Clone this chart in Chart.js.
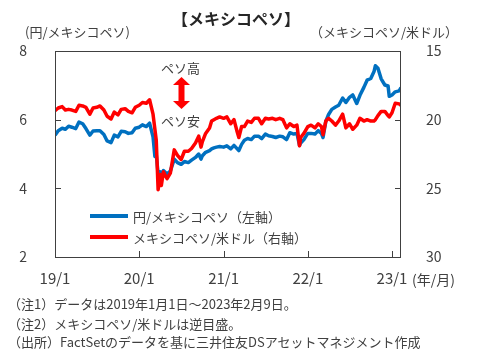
<!DOCTYPE html>
<html lang="ja">
<head>
<meta charset="utf-8">
<script src="https://cdn.jsdelivr.net/npm/chart.js@4.4.0/dist/chart.umd.min.js"></script>
<style>
  html, body { margin: 0; padding: 0; background: #fff; }
  #wrap { position: relative; width: 479px; height: 358px; overflow: hidden;
          font-family: "Noto Sans CJK JP", "Noto Sans", sans-serif; color: #404040; }
  #c { position: absolute; left: 0; top: 0; }
  .t { position: absolute; white-space: nowrap; }
  .leg-line { position: absolute; height: 4px; }
</style>
</head>
<body>
<div id="wrap">
  <canvas id="c" width="479" height="358"></canvas>
  <div class="t" style="left:236px; top:10px; font-size:16px; line-height:17px; font-weight:bold; color:#262626; transform:translateX(-50%);">【メキシコペソ】</div>
  <div class="t" style="left:25px; top:25px; font-size:13px; line-height:14px;">(円/メキシコペソ)</div>
  <div class="t" style="left:310px; top:25px; font-size:13px; line-height:14px;">（メキシコペソ/米ドル）</div>
  <div class="t" style="left:412px; top:271px; font-size:14px; line-height:16px;">(年/月)</div>
  <div class="t" style="left:161px; top:61px; font-size:13px; line-height:14px;">ペソ高</div>
  <div class="t" style="left:161px; top:114px; font-size:13px; line-height:14px;">ペソ安</div>
  <svg class="t" style="left:173px; top:77px;" width="18" height="33" viewBox="0 0 18 33">
    <polygon points="8.5,0 17,8 11.5,8 11.5,24 17,24 8.5,32 0,24 5.5,24 5.5,8 0,8" fill="#FF0000"/>
  </svg>
  <div class="leg-line" style="left:90px; top:214px; width:38px; background:#0070C0;"></div>
  <div class="t" style="left:133px; top:210px; font-size:13px; line-height:14px;">円/メキシコペソ（左軸）</div>
  <div class="leg-line" style="left:90px; top:235px; width:38px; background:#FF0000;"></div>
  <div class="t" style="left:133px; top:231px; font-size:13px; line-height:14px;">メキシコペソ/米ドル（右軸）</div>
  <div class="t" style="left:8px; top:297px; font-size:13px; line-height:14px;">（注1）データは2019年1月1日～2023年2月9日。</div>
  <div class="t" style="left:8px; top:317px; font-size:13px; line-height:14px;">（注2）メキシコペソ/米ドルは逆目盛。</div>
  <div class="t" style="left:8px; top:335px; font-size:13px; line-height:14px;">（出所）FactSetのデータを基に三井住友DSアセットマネジメント作成</div>
</div>
<script>
// ---- data ----
const dates = [
  '2019-01-01','2019-01-15','2019-02-01','2019-02-15','2019-03-01','2019-03-15','2019-04-01','2019-04-15',
  '2019-05-01','2019-05-15','2019-06-01','2019-06-15','2019-07-01','2019-07-15','2019-08-01','2019-08-15',
  '2019-09-01','2019-09-15','2019-10-01','2019-10-15','2019-11-01','2019-11-15','2019-12-01','2019-12-15',
  '2020-01-01','2020-01-15','2020-02-01','2020-02-15','2020-03-01','2020-03-09','2020-03-15','2020-03-23',
  '2020-04-01','2020-04-06','2020-04-15','2020-05-01','2020-05-15','2020-06-01','2020-06-15','2020-07-01',
  '2020-07-15','2020-08-01','2020-08-15','2020-09-01','2020-09-15','2020-09-25','2020-10-01','2020-10-15',
  '2020-11-01','2020-11-10','2020-11-20','2020-12-01','2020-12-15',
  '2021-01-01','2021-01-15','2021-02-01','2021-02-15','2021-03-01','2021-03-08','2021-03-20','2021-04-01',
  '2021-04-15','2021-05-01','2021-05-15','2021-06-01','2021-06-15','2021-07-01','2021-07-15','2021-08-01',
  '2021-08-15','2021-09-01','2021-09-15','2021-10-01','2021-10-15','2021-11-01','2021-11-15','2021-11-26',
  '2021-12-01','2021-12-15',
  '2022-01-01','2022-01-15','2022-02-01','2022-02-15','2022-03-01','2022-03-08','2022-03-20','2022-04-01',
  '2022-04-15','2022-05-01','2022-05-15','2022-06-01','2022-06-15','2022-07-01','2022-07-15','2022-08-01',
  '2022-08-15','2022-09-01','2022-09-15','2022-10-01','2022-10-15','2022-10-21','2022-11-01','2022-11-15',
  '2022-12-01','2022-12-15','2022-12-20',
  '2023-01-01','2023-01-15','2023-02-01','2023-02-09'
];
// 円/メキシコペソ (left axis)
const jpyPerMxn = [
  5.55,5.68,5.75,5.72,5.81,5.78,5.74,5.93,
  5.88,5.74,5.55,5.67,5.68,5.68,5.57,5.38,
  5.33,5.55,5.50,5.66,5.65,5.60,5.62,5.75,
  5.78,5.85,5.80,5.90,5.50,4.93,4.98,4.42,
  4.48,4.40,4.52,4.42,4.50,4.85,4.75,4.70,
  4.78,4.75,4.82,4.90,5.00,4.85,4.95,5.05,
  5.10,5.15,5.18,5.20,5.22,
  5.20,5.24,5.15,5.25,5.15,5.10,5.28,5.40,
  5.45,5.42,5.52,5.52,5.45,5.58,5.53,5.51,
  5.48,5.52,5.50,5.42,5.62,5.58,5.60,5.25,
  5.32,5.42,
  5.60,5.60,5.58,5.68,5.60,5.48,5.95,6.15,
  6.30,6.37,6.42,6.63,6.50,6.65,6.72,6.47,
  6.71,6.94,7.15,7.20,7.40,7.57,7.50,7.19,
  7.01,6.98,6.68,
  6.72,6.81,6.84,6.93
];
// メキシコペソ/米ドル (right axis, reversed)
const mxnPerUsd = [
  19.35,19.15,19.05,19.30,19.25,19.30,19.40,18.95,
  19.00,19.10,19.60,19.15,19.10,19.00,19.30,19.75,
  19.95,19.45,19.65,19.25,19.20,19.40,19.50,19.10,
  18.95,18.75,18.80,18.55,19.60,20.70,21.50,25.10,
  24.00,24.80,23.80,24.30,23.90,22.20,22.60,22.90,
  22.30,22.30,22.10,21.70,21.20,22.00,21.60,21.00,
  20.60,20.10,20.00,19.90,19.80,
  19.90,19.80,20.30,20.00,20.90,21.30,20.50,20.50,
  20.10,20.20,19.90,19.90,20.30,19.90,19.95,19.90,
  20.00,19.90,20.00,20.60,20.30,20.50,20.40,21.90,
  21.30,21.00,
  20.50,20.40,20.60,20.30,20.50,21.10,20.10,19.90,
  20.10,20.40,20.10,19.60,20.60,20.30,20.70,20.40,
  19.90,20.10,20.00,20.10,20.10,20.00,19.70,19.40,
  19.40,19.70,19.80,
  19.50,18.80,18.85,18.95
];
const xTickDates  = ['2019-01-01','2020-01-01','2021-01-01','2022-01-01','2023-01-01'];
const xTickLabels = ['19/1','20/1','21/1','22/1','23/1'];
const xStart = '2019-01-01';
const xEnd = '2023-02-09';

// ---- helpers ----
const DAY = 86400000;
const dayOf = s => (Date.parse(s + 'T00:00:00Z') - Date.parse(xStart + 'T00:00:00Z')) / DAY;
const xs = dates.map(dayOf);
const xTicks = xTickDates.map(dayOf);

const FONT = '"Noto Sans CJK JP", "Noto Sans", sans-serif';
const TXT = '#404040';
const FRAME = '#404040';

const framePlugin = {
  id: 'frame',
  afterDatasetsDraw(chart) {
    const { ctx, chartArea: a, scales } = chart;
    ctx.save();
    ctx.strokeStyle = FRAME;
    ctx.lineWidth = 1;
    ctx.strokeRect(Math.round(a.left) + 0.5, Math.round(a.top) + 0.5,
                   Math.round(a.right - a.left) - 1, Math.round(a.bottom - a.top));
    ctx.beginPath();
    const L = 6;
    scales.yL.ticks.forEach(t => {
      const y = Math.round(scales.yL.getPixelForValue(t.value)) + 0.5;
      ctx.moveTo(a.left, y); ctx.lineTo(a.left + L, y);
    });
    scales.yR.ticks.forEach(t => {
      const y = Math.round(scales.yR.getPixelForValue(t.value)) + 0.5;
      ctx.moveTo(a.right, y); ctx.lineTo(a.right - L, y);
    });
    scales.x.ticks.forEach(t => {
      const x = Math.round(scales.x.getPixelForValue(t.value)) + 0.5;
      ctx.moveTo(x, a.bottom); ctx.lineTo(x, a.bottom - L);
    });
    ctx.stroke();
    ctx.restore();
  }
};

new Chart(document.getElementById('c'), {
  type: 'line',
  data: {
    datasets: [
      {
        label: '円/メキシコペソ（左軸）',
        data: xs.map((x, i) => ({ x, y: jpyPerMxn[i] })),
        borderColor: '#0070C0', borderWidth: 3.5, pointRadius: 0,
        borderJoinStyle: 'round', tension: 0, yAxisID: 'yL', order: 2
      },
      {
        label: 'メキシコペソ/米ドル（右軸）',
        data: xs.map((x, i) => ({ x, y: mxnPerUsd[i] })),
        borderColor: '#FF0000', borderWidth: 3.5, pointRadius: 0,
        borderJoinStyle: 'round', tension: 0, yAxisID: 'yR', order: 1
      }
    ]
  },
  options: {
    responsive: false, animation: false, devicePixelRatio: 1,
    parsing: false,
    layout: { padding: { top: 51, left: 0, right: 0, bottom: 0 } },
    plugins: { legend: { display: false }, tooltip: { enabled: false } },
    scales: {
      x: {
        type: 'linear', min: 0, max: dayOf(xEnd),
        afterBuildTicks: s => { s.ticks = xTicks.map(v => ({ value: v })); },
        afterFit: s => { s.height = 101; },
        ticks: {
          autoSkip: false, maxRotation: 0, padding: 4,
          font: { family: FONT, size: 15 }, color: TXT,
          callback: (v, i) => xTickLabels[i]
        },
        grid: { display: false }, border: { display: false }
      },
      yL: {
        position: 'left', min: 2, max: 8,
        afterFit: s => { s.width = 55; },
        ticks: { stepSize: 2, padding: 20, font: { family: FONT, size: 14 }, color: TXT },
        grid: { display: false }, border: { display: false }
      },
      yR: {
        position: 'right', min: 15, max: 30, reverse: true,
        afterFit: s => { s.width = 78; },
        ticks: { stepSize: 5, padding: 17, font: { family: FONT, size: 14 }, color: TXT },
        grid: { display: false }, border: { display: false }
      }
    }
  },
  plugins: [framePlugin]
});
</script>
</body>
</html>
